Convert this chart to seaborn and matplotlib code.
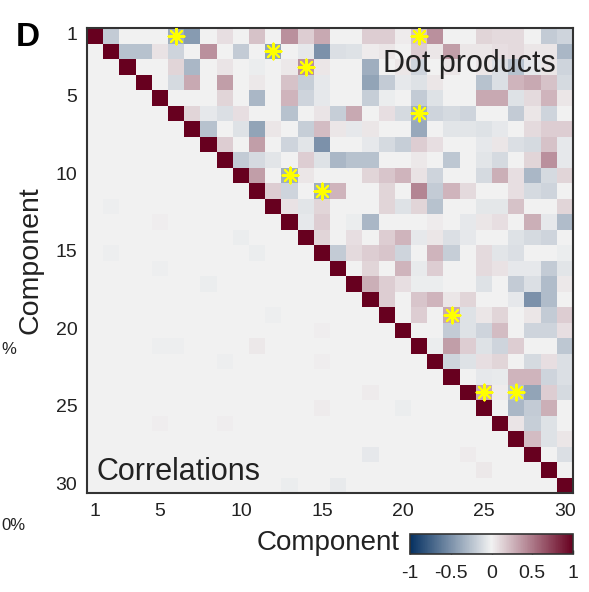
import numpy as np
import pandas as pd
import matplotlib
matplotlib.use("Agg")
import matplotlib.pyplot as plt
import seaborn as sns
from matplotlib.colors import LinearSegmentedColormap

# ---------------- data ----------------
components = list(range(1, 31))
tick_components = [1, 5, 10, 15, 20, 25, 30]
cbar_ticks = [-1, -0.5, 0, 0.5, 1]
cbar_labels = ["-1", "-0.5", "0", "0.5", "1"]

# upper triangle: dot products, row r holds columns r+1..30
dot_products = [
    [-0.2, 0, 0, 0, -0.35, -0.45, 0, 0.08, 0, 0.2, 0, 0.4, 0.15, 0.3, 0, 0, 0.15, 0.15, 0.03, 0.2, 0.4, 0, 0, 0.12, 0.1, 0.1, 0, -0.2, -0.15],
    [-0.25, -0.25, 0.07, -0.15, 0, 0.4, 0, -0.2, 0, -0.4, 0, -0.05, -0.5, -0.1, -0.08, 0.03, 0.05, 0, 0.15, 0.05, 0.35, 0.05, 0.05, 0.08, 0.1, 0.05, 0.05, -0.3],
    [0, 0, 0.12, -0.3, 0, 0.06, 0, -0.03, 0, 0.04, 0.4, 0.05, 0, 0, -0.35, 0, 0.05, -0.15, 0, 0.05, 0, 0.05, -0.1, -0.25, -0.05, 0.05, -0.15],
    [0, -0.12, 0.3, 0, 0.35, 0, 0.04, 0, 0.2, -0.18, -0.05, 0, 0, -0.4, -0.2, -0.05, -0.08, 0.05, 0, 0, -0.25, -0.1, 0.25, 0.3, 0.2, -0.12],
    [0, 0, 0, 0.12, 0, -0.3, 0, 0.25, -0.15, -0.05, 0, 0, -0.18, -0.03, 0, -0.2, -0.08, 0, 0, 0.3, 0.3, -0.08, 0.1, 0.25, 0.05],
    [0.12, -0.05, -0.1, 0.08, 0, 0, -0.25, 0, 0.06, -0.18, 0.3, 0, 0.08, -0.12, -0.35, -0.15, -0.12, -0.15, 0, 0, -0.2, 0.05, -0.15, 0],
    [-0.25, 0, -0.08, -0.4, 0.05, 0, -0.18, 0.22, 0.05, -0.05, 0.05, 0, 0, -0.38, 0, -0.07, -0.07, -0.08, -0.05, 0, 0.1, 0.15, 0.15],
    [0.15, 0, 0.35, 0, -0.15, -0.07, -0.5, 0, 0, -0.05, -0.12, -0.18, 0.15, 0.08, 0, 0, -0.05, 0.05, -0.1, -0.12, 0.2, -0.05],
    [-0.2, -0.12, -0.07, 0, 0.15, -0.08, -0.3, -0.25, -0.25, 0, 0, 0.04, 0, -0.22, 0, -0.07, -0.12, 0, 0.12, 0.4, -0.05],
    [0.35, 0, -0.35, 0.05, 0, 0, 0, 0.12, 0.18, 0.25, 0.07, -0.15, 0, 0, -0.12, 0.28, 0.08, -0.3, -0.12, 0.12],
    [0.15, -0.15, 0, -0.35, 0.25, 0, 0, 0.12, 0, 0.45, -0.2, 0.25, 0.1, 0, 0, 0.08, -0.12, -0.15, 0],
    [0.07, -0.07, 0.12, 0, 0, 0, 0.12, -0.08, 0.12, -0.25, 0, 0, -0.06, -0.06, 0.2, 0, 0, 0.12],
    [-0.05, 0.15, 0, -0.03, -0.3, 0, 0, 0, 0.03, 0, -0.05, 0.05, 0.08, 0, 0.28, -0.05, -0.28],
    [0.12, 0, 0.08, 0, 0.15, 0.25, -0.05, 0.05, -0.1, -0.05, 0, 0, -0.08, -0.12, -0.15, 0],
    [-0.2, 0.1, 0.15, 0.18, -0.15, 0, 0.25, -0.18, 0, 0.1, -0.07, -0.1, 0, 0, -0.03],
    [0, 0.12, 0, 0.25, -0.04, 0.15, 0, 0, 0.1, 0.07, -0.05, -0.05, -0.2, -0.07],
    [0.28, 0.15, 0.08, -0.03, -0.03, 0, 0, -0.08, 0, -0.2, -0.1, -0.28, 0.04],
    [0.15, 0, 0.18, 0.25, 0.05, 0.12, 0, 0, -0.05, -0.5, -0.28, 0],
    [0, 0.15, 0, 0.3, -0.08, 0.05, 0.12, 0, 0.05, -0.2, 0.15],
    [0, 0, -0.2, -0.08, -0.15, 0.22, 0, -0.15, -0.15, 0.08],
    [-0.03, 0.35, 0.15, -0.08, -0.15, 0.15, 0, 0, -0.22],
    [-0.15, -0.08, 0.08, 0.12, 0, -0.12, 0.08, -0.1],
    [0, -0.05, -0.04, 0.25, 0.25, -0.15, -0.1],
    [0.3, 0.03, -0.25, -0.4, 0.15, -0.12],
    [0, -0.3, -0.2, 0.28, 0],
    [0.06, -0.18, -0.08, 0],
    [0.22, -0.08, 0.05],
    [0, -0.1],
    [0],
]

# lower triangle: correlations (all near zero; the visible faint ones)
corr_rows = [12, 13, 14, 15, 15, 16, 17, 19, 20, 21, 21, 21, 22, 22, 24, 25, 25, 26, 26, 28, 28, 29, 30, 30]
corr_cols = [2, 5, 10, 2, 11, 5, 8, 12, 15, 5, 6, 11, 9, 15, 18, 15, 20, 5, 9, 18, 24, 25, 13, 16]
corr_vals = [-0.02, 0.02, -0.03, -0.02, -0.03, -0.02, -0.03, -0.02, 0.02, -0.02, -0.02, 0.04,
             -0.02, 0.02, 0.03, 0.03, -0.03, 0.02, 0.02, -0.05, 0.03, 0.04, -0.03, -0.04]

# significant pairs (yellow asterisks)
star_rows = [1, 1, 2, 3, 6, 10, 11, 19, 24, 24]
star_cols = [6, 21, 12, 14, 21, 13, 15, 23, 25, 27]

# ---------------- build matrix ----------------
n = len(components)
M = np.eye(n)
for r, vals in enumerate(dot_products):
    for k, v in enumerate(vals):
        M[r, r + 1 + k] = v
for r, c, v in zip(corr_rows, corr_cols, corr_vals):
    M[r - 1, c - 1] = v
df = pd.DataFrame(M, index=components, columns=components)

# ---------------- style ----------------
sns.set_style("white")
plt.rcParams["font.family"] = ["Liberation Sans", "DejaVu Sans"]

cmap = LinearSegmentedColormap.from_list(
    "bwr_gray", [(0.0, "#053061"), (0.5, "#f2f2f2"), (1.0, "#67001f")])

W, H = 589, 592
fig = plt.figure(figsize=(W / 100, H / 100), dpi=100)
ax = fig.add_axes([87 / W, 1 - 493 / H, (573 - 87) / W, (493 - 28) / H])
cax = fig.add_axes([410 / W, 1 - 554 / H, (573 - 410) / W, 20 / H])

sns.heatmap(df, ax=ax, cmap=cmap, vmin=-1, vmax=1, linewidths=0,
            cbar_ax=cax, cbar_kws={"orientation": "horizontal"})

for s in ax.spines.values():
    s.set_visible(True)
    s.set_color("#333333")
    s.set_linewidth(1.5)

pos = [c - 0.5 for c in tick_components]
ax.set_xticks(pos)
ax.set_xticklabels([str(c) for c in tick_components], rotation=0)
ax.set_yticks(pos)
ax.set_yticklabels([str(c) for c in tick_components], rotation=0)
ax.tick_params(direction="in", length=5, width=1, top=True, right=True,
               labelsize=14, colors="#222222", pad=7)
ax.set_xlabel("")
ax.set_ylabel("Component", fontsize=20.5, color="#222222", labelpad=9)

ax.scatter([c - 0.5 for c in star_cols], [r - 0.5 for r in star_rows],
           marker=(8, 2, 0), s=130, color="#ffff00", linewidths=1.5, zorder=5)

ax.text(0.965, 0.922, "Dot products", transform=ax.transAxes, ha="right",
        va="center", fontsize=22, color="#222222")
ax.text(0.02, 0.045, "Correlations", transform=ax.transAxes, ha="left",
        va="center", fontsize=22, color="#222222")

cbar = ax.collections[0].colorbar
cbar.set_ticks(cbar_ticks)
cbar.set_ticklabels(cbar_labels)
cbar.ax.tick_params(direction="in", length=3, width=1, labelsize=14,
                    colors="#222222", pad=8)
cbar.outline.set_edgecolor("#333333")
cbar.outline.set_linewidth(1.2)

fig.text(400 / W, 1 - 543 / H, "Component", ha="right", va="center",
         fontsize=20, color="#222222")
fig.text(16 / W, 1 - 37 / H, "D", ha="left", va="center", fontsize=24,
         fontweight="bold", color="black")
fig.text(1 / W, 1 - 350 / H, "%", ha="left", va="center", fontsize=12,
         color="#222222")
fig.text(1 / W, 1 - 525 / H, "0%", ha="left", va="center", fontsize=12,
         color="#222222")

fig.savefig("out.png", dpi=100, facecolor="white")
